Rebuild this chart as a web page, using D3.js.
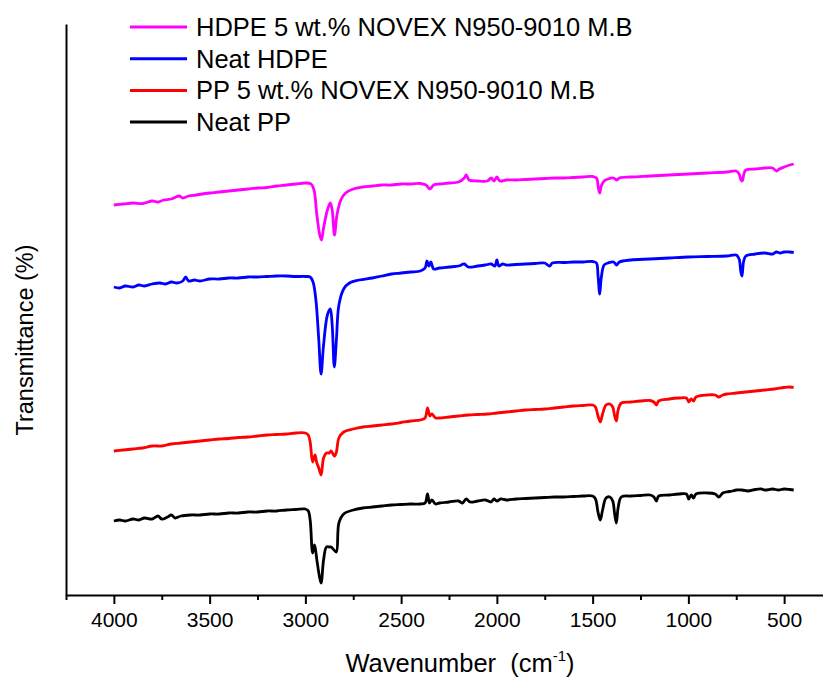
<!DOCTYPE html>
<html>
<head>
<meta charset="utf-8">
<script src="https://cdn.jsdelivr.net/npm/d3@7"></script>
<style>
  html, body { margin: 0; padding: 0; background: #fff; }
  svg { display: block; font-family: "Liberation Sans", Arial, sans-serif; }
</style>
</head>
<body>
<svg id="chart" width="823" height="680"></svg>
<script>
// FTIR spectra: [wavenumber (cm-1), transmittance (offset, arbitrary units)]
const hdpeNovex = [
  [4000,78.0],[3950,78.2],[3900,78.4],[3850,78.3],[3800,78.8],[3770,78.6],[3740,79.0],[3700,79.2],
  [3660,79.8],[3640,79.4],[3610,79.8],[3570,80.0],[3540,80.2],[3500,80.4],[3450,80.6],[3400,80.8],
  [3350,81.0],[3300,81.2],[3250,81.4],[3200,81.5],[3150,81.8],[3100,82.0],[3050,82.2],[3000,82.4],
  [2970,82.2],[2955,81.0],[2940,76.0],[2925,72.0],[2916,71.0],[2905,73.4],[2885,77.0],[2870,78.4],
  [2860,77.0],[2848,72.0],[2835,76.0],[2815,79.0],[2790,80.4],[2750,81.2],[2700,81.6],[2650,81.8],
  [2600,82.0],[2550,82.0],[2500,82.2],[2450,82.2],[2400,82.3],[2370,82.0],[2350,81.2],[2330,82.0],
  [2300,82.2],[2250,82.4],[2200,82.6],[2170,83.4],[2160,84.0],[2145,83.0],[2100,82.8],[2050,82.8],
  [2030,83.4],[2015,82.8],[2000,83.6],[1985,82.8],[1950,83.0],[1900,83.0],[1850,83.1],[1800,83.2],
  [1750,83.3],[1700,83.4],[1650,83.4],[1600,83.5],[1550,83.6],[1500,83.7],[1480,83.4],[1470,81.4],
  [1463,80.4],[1455,81.8],[1440,82.8],[1420,83.2],[1390,83.4],[1375,83.0],[1360,83.4],[1300,83.6],
  [1200,83.8],[1100,84.0],[1000,84.2],[900,84.4],[800,84.6],[750,84.8],[735,84.2],[725,83.0],
  [719,82.8],[710,84.2],[700,85.0],[650,85.2],[600,85.4],[560,85.4],[540,84.8],[525,85.2],
  [500,85.6],[470,86.0],[450,86.2]
];

const hdpeNeat = [
  [4000,61.6],[3970,61.4],[3940,61.8],[3900,61.6],[3870,62.0],[3840,61.8],[3800,62.2],[3760,62.4],
  [3730,62.2],[3700,62.6],[3670,62.4],[3640,62.8],[3625,63.6],[3610,62.8],[3580,63.0],[3550,62.8],
  [3500,63.2],[3450,63.2],[3400,63.4],[3350,63.4],[3300,63.6],[3250,63.6],[3200,63.7],[3150,63.8],
  [3100,63.8],[3050,63.7],[3000,63.7],[2975,63.6],[2960,62.6],[2945,59.0],[2930,51.0],[2918,44.2],
  [2905,50.0],[2885,56.0],[2870,57.2],[2860,54.0],[2849,45.6],[2838,51.0],[2825,58.0],[2800,61.2],
  [2770,62.4],[2720,63.0],[2650,63.4],[2600,63.8],[2550,64.2],[2500,64.4],[2450,64.6],[2400,64.8],
  [2375,65.4],[2365,66.8],[2355,65.8],[2345,66.6],[2330,65.2],[2300,65.4],[2250,65.6],[2200,65.8],
  [2170,66.2],[2150,65.6],[2100,65.8],[2060,66.0],[2030,66.2],[2010,65.8],[2000,67.0],[1990,65.8],
  [1970,66.2],[1950,66.0],[1900,66.1],[1850,66.2],[1800,66.3],[1750,66.4],[1725,65.8],[1710,66.4],
  [1650,66.5],[1600,66.6],[1550,66.6],[1500,66.7],[1480,66.4],[1472,64.0],[1463,60.2],[1455,63.4],
  [1440,66.0],[1420,66.4],[1390,66.6],[1375,66.0],[1360,66.6],[1300,67.0],[1200,67.2],[1100,67.4],
  [1000,67.6],[900,67.7],[800,67.8],[750,68.0],[735,67.2],[726,64.6],[720,63.8],[712,66.6],
  [700,67.8],[650,68.2],[600,68.4],[560,68.2],[540,68.6],[520,68.4],[500,68.6],[470,68.6],[450,68.5]
];

const ppNovex = [
  [4000,28.8],[3950,29.0],[3900,29.2],[3850,29.4],[3800,29.8],[3750,29.8],[3700,30.2],[3650,30.4],
  [3600,30.6],[3550,30.8],[3500,31.0],[3450,31.2],[3400,31.3],[3350,31.5],[3300,31.6],[3250,31.8],
  [3200,32.0],[3150,32.1],[3100,32.2],[3050,32.4],[3000,32.4],[2985,32.0],[2975,30.6],[2962,26.6],
  [2950,28.0],[2940,26.4],[2930,25.4],[2918,24.0],[2905,27.4],[2890,28.4],[2875,28.4],[2866,28.8],
  [2848,27.8],[2838,28.6],[2825,31.4],[2800,32.6],[2750,33.2],[2700,33.6],[2650,33.8],[2600,34.0],
  [2550,34.2],[2500,34.5],[2450,34.8],[2400,35.0],[2375,35.4],[2362,37.4],[2350,35.8],[2340,36.2],
  [2320,35.4],[2300,35.4],[2250,35.6],[2200,35.8],[2150,36.0],[2100,36.1],[2050,36.2],[2000,36.4],
  [1950,36.6],[1900,36.8],[1850,37.0],[1800,37.1],[1750,37.2],[1700,37.4],[1650,37.6],[1600,37.8],
  [1550,37.9],[1500,38.0],[1485,37.6],[1472,35.8],[1460,34.6],[1448,36.2],[1430,38.0],[1410,38.2],
  [1395,37.6],[1385,35.8],[1376,34.8],[1367,37.0],[1350,38.4],[1300,38.6],[1250,38.8],[1200,38.9],
  [1180,38.6],[1167,38.0],[1155,38.8],[1100,39.2],[1050,39.4],[1010,39.4],[998,38.6],[985,39.2],
  [973,38.8],[960,39.6],[900,40.0],[860,40.0],[841,39.6],[820,40.0],[800,40.2],[750,40.4],
  [700,40.6],[650,40.8],[600,41.0],[550,41.2],[500,41.5],[470,41.6],[450,41.5]
];

const ppNeat = [
  [4000,14.8],[3970,15.0],[3940,14.8],[3900,15.2],[3870,15.0],[3840,15.4],[3800,15.2],[3770,15.8],
  [3750,15.2],[3720,15.6],[3700,16.0],[3680,15.4],[3650,15.8],[3600,16.0],[3550,16.0],[3500,16.2],
  [3450,16.2],[3400,16.4],[3350,16.4],[3300,16.6],[3250,16.6],[3200,16.8],[3150,16.8],[3100,17.0],
  [3050,17.1],[3000,17.2],[2985,16.8],[2975,15.0],[2962,8.4],[2952,10.0],[2940,7.0],[2928,4.0],
  [2918,2.4],[2905,7.0],[2890,9.6],[2875,9.6],[2866,9.6],[2850,9.0],[2838,8.6],[2825,14.4],
  [2800,16.2],[2750,17.0],[2700,17.4],[2650,17.6],[2600,17.8],[2550,18.0],[2500,18.1],[2450,18.2],
  [2400,18.2],[2375,18.4],[2362,20.2],[2352,18.4],[2340,19.0],[2320,18.2],[2300,18.4],[2250,18.6],
  [2200,18.8],[2180,18.4],[2160,19.2],[2140,18.6],[2100,18.8],[2060,19.0],[2030,18.6],[2015,19.2],
  [2000,18.8],[1980,19.2],[1950,19.0],[1900,19.2],[1850,19.3],[1800,19.4],[1750,19.5],[1700,19.6],
  [1650,19.6],[1600,19.7],[1550,19.8],[1500,19.8],[1485,19.2],[1472,16.6],[1460,15.0],[1448,17.0],
  [1430,19.4],[1410,19.6],[1395,18.8],[1385,16.2],[1376,14.4],[1367,17.4],[1350,19.6],[1300,19.8],
  [1250,19.9],[1200,20.0],[1180,19.6],[1167,18.8],[1155,19.8],[1100,20.0],[1050,20.2],[1010,20.2],
  [998,19.2],[985,20.0],[973,19.4],[960,20.2],[900,20.4],[860,20.2],[841,19.6],[820,20.4],
  [800,20.6],[770,20.8],[750,21.0],[720,21.0],[690,20.8],[650,21.1],[620,21.2],[600,21.0],
  [560,21.2],[530,21.0],[500,21.2],[470,21.1],[450,21.0]
];

const seriesNames = [
  "HDPE 5 wt.% NOVEX N950-9010 M.B",
  "Neat HDPE",
  "PP 5 wt.% NOVEX N950-9010 M.B",
  "Neat PP"
];
const seriesData = [hdpeNovex, hdpeNeat, ppNovex, ppNeat];
const seriesColors = ["#ff00ff", "#0000ff", "#ff0000", "#000000"];

const majorTicks = [4000, 3500, 3000, 2500, 2000, 1500, 1000, 500];
const minorTicks = [4250, 3750, 3250, 2750, 2250, 1750, 1250, 750];

const svg = d3.select("#chart");
const plot = { left: 66, right: 832, top: 24, bottom: 595 };

const x = d3.scaleLinear().domain([4250, 250]).range([plot.left, plot.right]);
const y = d3.scaleLinear().domain([0, 114.2]).range([plot.bottom, plot.top]);

// spectra
const line = d3.line()
  .x(d => x(d[0]))
  .y(d => y(d[1]))
  .curve(d3.curveCatmullRom.alpha(0.5));

svg.append("g")
  .selectAll("path")
  .data(seriesData)
  .join("path")
  .attr("d", line)
  .attr("fill", "none")
  .attr("stroke", (d, i) => seriesColors[i])
  .attr("stroke-width", 2.8)
  .attr("stroke-linejoin", "round");

// x axis: major and minor ticks
const xAxis = svg.append("g")
  .attr("transform", `translate(0,${plot.bottom})`)
  .call(d3.axisBottom(x).tickValues(majorTicks).tickFormat(d3.format("d"))
    .tickSize(9).tickSizeOuter(0).tickPadding(8));
xAxis.select(".domain").attr("stroke-width", 2);
xAxis.selectAll(".tick line").attr("stroke-width", 2);
xAxis.selectAll(".tick text")
  .attr("font-size", 21)
  .attr("font-family", "'Liberation Sans', Arial, sans-serif")
  .attr("fill", "#000");

const xMinor = svg.append("g")
  .attr("transform", `translate(0,${plot.bottom})`)
  .call(d3.axisBottom(x).tickValues(minorTicks).tickFormat("").tickSize(5).tickSizeOuter(0));
xMinor.select(".domain").remove();
xMinor.selectAll(".tick line").attr("stroke-width", 2);

// y axis: plain line, no tick labels
const yAxis = svg.append("g")
  .attr("transform", `translate(${plot.left},0)`)
  .call(d3.axisLeft(y).tickValues([]).tickSizeOuter(0));
yAxis.select(".domain").attr("stroke-width", 2);

// axis titles
const xTitle = svg.append("text")
  .attr("x", 460)
  .attr("y", 672)
  .attr("text-anchor", "middle")
  .attr("font-size", 25.5)
  .attr("fill", "#000");
xTitle.append("tspan").text("Wavenumber\u00a0\u00a0(cm");
xTitle.append("tspan").attr("font-size", 15).attr("dy", -11).text("-1");
xTitle.append("tspan").attr("dy", 11).text(")");

svg.append("text")
  .attr("transform", "translate(33,340) rotate(-90)")
  .attr("text-anchor", "middle")
  .attr("font-size", 23.5)
  .attr("fill", "#000")
  .text("Transmittance (%)");

// legend
const legend = svg.append("g");
const legendRows = legend.selectAll("g")
  .data(seriesNames)
  .join("g")
  .attr("transform", (d, i) => `translate(130,${27 + i * 31.7})`);
legendRows.append("line")
  .attr("x1", 0).attr("x2", 57)
  .attr("stroke", (d, i) => seriesColors[i])
  .attr("stroke-width", 3);
legendRows.append("text")
  .attr("x", 66)
  .attr("dy", "0.35em")
  .attr("font-size", 25.5)
  .attr("fill", "#000")
  .text(d => d);
</script>
</body>
</html>
